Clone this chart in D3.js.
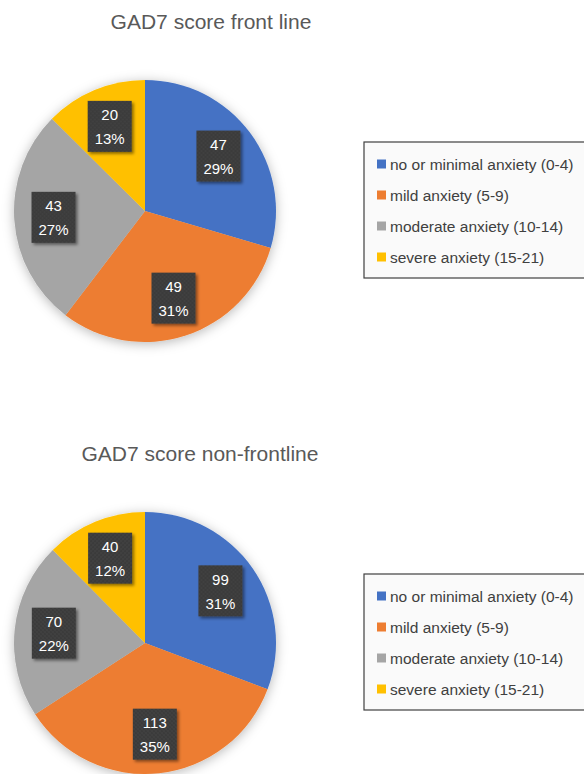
<title>GAD7 score pies</title>
<script src="https://cdnjs.cloudflare.com/ajax/libs/d3/7.8.5/d3.min.js"></script>
<style>
  body { margin: 0; background: #fff; }
  text { font-family: "Liberation Sans", Arial, sans-serif; }
</style>
<svg id="chart"></svg>
<script>
  // data
  var categories = ["no or minimal anxiety (0-4)", "mild anxiety (5-9)", "moderate anxiety (10-14)", "severe anxiety (15-21)"];
  var colors = ["#4472C4", "#ED7D31", "#A5A5A5", "#FFC000"];

  var frontTitle = "GAD7 score front line";
  var frontValues = [47, 49, 43, 20];
  var frontPct = ["29%", "31%", "27%", "13%"];

  var nonTitle = "GAD7 score non-frontline";
  var nonValues = [99, 113, 70, 40];
  var nonPct = ["31%", "35%", "22%", "12%"];

  // layout
  var width = 584, height = 774;
  var radius = 131;
  var panels = [
    {title: frontTitle, values: frontValues, pct: frontPct, top: 0, titleX: 211},
    {title: nonTitle, values: nonValues, pct: nonPct, top: 432, titleX: 200}
  ];

  var svg = d3.select('#chart')
      .attr('width', width)
      .attr('height', height);

  var defs = svg.append('defs');

  // soft glow round the pie
  var glow = defs.append('filter').attr('id', 'pieShadow')
      .attr('x', '-20%').attr('y', '-20%').attr('width', '140%').attr('height', '140%');
  glow.append('feDropShadow')
      .attr('dx', 0).attr('dy', 2)
      .attr('stdDeviation', 6)
      .attr('flood-color', '#000')
      .attr('flood-opacity', 0.28);

  // drop shadow for label boxes
  var boxShadow = defs.append('filter').attr('id', 'boxShadow')
      .attr('x', '-30%').attr('y', '-30%').attr('width', '160%').attr('height', '160%');
  boxShadow.append('feDropShadow')
      .attr('dx', 2).attr('dy', 2)
      .attr('stdDeviation', 1.5)
      .attr('flood-color', '#000')
      .attr('flood-opacity', 0.45);

  // dotted texture of the label boxes
  var pat = defs.append('pattern').attr('id', 'dots')
      .attr('width', 4).attr('height', 4)
      .attr('patternUnits', 'userSpaceOnUse');
  pat.append('rect').attr('width', 4).attr('height', 4).attr('fill', '#3a3a3a');
  pat.append('circle').attr('cx', 1).attr('cy', 1).attr('r', 0.7).attr('fill', '#4d4d4d');
  pat.append('circle').attr('cx', 3).attr('cy', 3).attr('r', 0.7).attr('fill', '#4d4d4d');

  var color = d3.scaleOrdinal().domain(categories).range(colors);

  var pie = d3.pie().sort(null).value(function(d) { return d.value; });
  var arc = d3.arc().innerRadius(0).outerRadius(radius);
  var labelArc = d3.arc().innerRadius(radius * 0.7).outerRadius(radius * 0.7);

  panels.forEach(function(p) {
    var g = svg.append('g').attr('transform', 'translate(0,' + p.top + ')');

    g.append('text')
      .attr('x', p.titleX)
      .attr('y', 29)
      .attr('text-anchor', 'middle')
      .style('font-size', '21px')
      .style('fill', '#595959')
      .text(p.title);

    var data = categories.map(function(c, i) {
      return {cat: c, value: p.values[i], pct: p.pct[i]};
    });
    var arcs = pie(data);

    var pg = g.append('g').attr('transform', 'translate(145,211)');

    pg.append('g')
      .attr('filter', 'url(#pieShadow)')
      .selectAll('path')
      .data(arcs)
      .enter().append('path')
      .attr('d', arc)
      .attr('fill', function(d) { return color(d.data.cat); });

    var lab = pg.selectAll('g.lab')
      .data(arcs)
      .enter().append('g')
      .attr('class', 'lab')
      .attr('transform', function(d) { return 'translate(' + labelArc.centroid(d) + ')'; });

    lab.append('rect')
      .attr('x', -22).attr('y', -25.5)
      .attr('width', 44).attr('height', 51)
      .attr('fill', 'url(#dots)')
      .attr('filter', 'url(#boxShadow)');

    lab.append('text')
      .attr('text-anchor', 'middle')
      .attr('y', -6)
      .style('font-size', '15px')
      .style('fill', '#fff')
      .text(function(d) { return d.data.value; });

    lab.append('text')
      .attr('text-anchor', 'middle')
      .attr('y', 18)
      .style('font-size', '15px')
      .style('fill', '#fff')
      .text(function(d) { return d.data.pct; });

    // legend
    var lg = g.append('g').attr('transform', 'translate(364,142)');
    lg.append('rect')
      .attr('x', 0).attr('y', 0)
      .attr('width', 240).attr('height', 136)
      .attr('fill', '#fafafa')
      .attr('stroke', '#404040')
      .attr('stroke-width', 1.2);

    var y = d3.scalePoint().domain(categories).range([22, 115]);

    var item = lg.selectAll('g.item')
      .data(categories)
      .enter().append('g')
      .attr('class', 'item')
      .attr('transform', function(d) { return 'translate(0,' + y(d) + ')'; });

    item.append('rect')
      .attr('x', 13).attr('y', -4.5)
      .attr('width', 9).attr('height', 9)
      .attr('fill', function(d) { return color(d); });

    item.append('text')
      .attr('x', 26)
      .attr('y', 5.5)
      .style('font-size', '15.5px')
      .style('fill', '#404040')
      .text(function(d) { return d; });
  });
</script>
